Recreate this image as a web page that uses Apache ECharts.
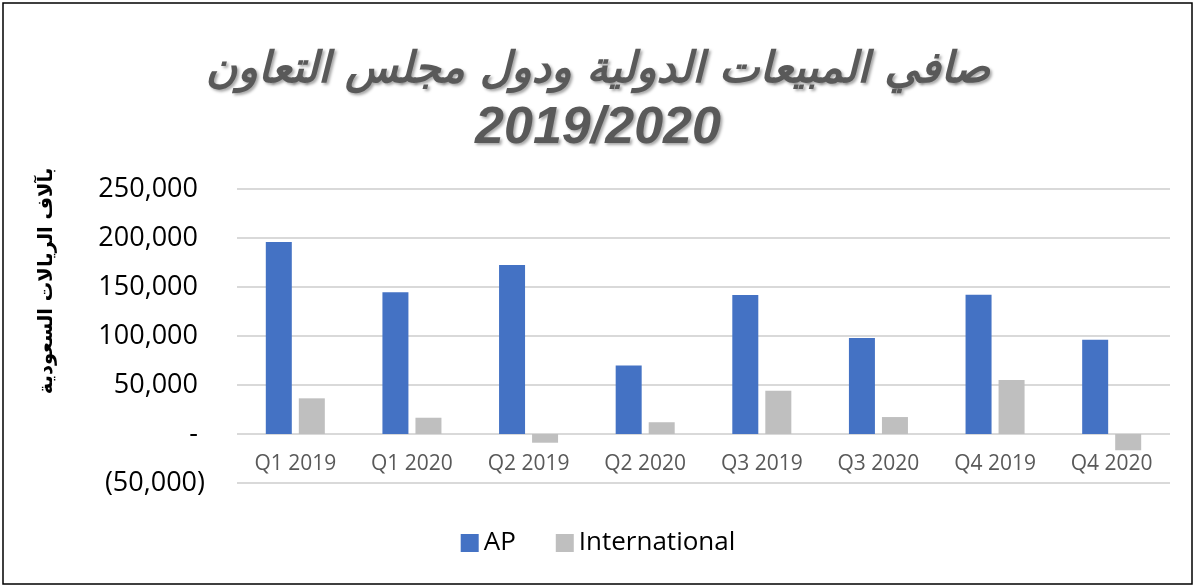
<!DOCTYPE html>
<html>
<head>
<meta charset="utf-8">
<script src="https://cdn.jsdelivr.net/npm/echarts@6/dist/echarts.min.js"></script>
<style>
  html, body { margin: 0; padding: 0; background: #fff; }
  #chart { width: 1196px; height: 588px; }
</style>
</head>
<body>
<div id="chart"></div>
<script>
// 季度分类
var categories = ['Q1 2019', 'Q1 2020', 'Q2 2019', 'Q2 2020', 'Q3 2019', 'Q3 2020', 'Q4 2019', 'Q4 2020'];
// 系列数据（千里亚尔）
var apValues = [196000, 144600, 172400, 70000, 141800, 98000, 142000, 96200];
var intlValues = [36400, 16600, -8900, 12000, 44200, 17300, 55100, -16600];
var seriesNames = ['AP', 'International'];
// y轴刻度
var yMin = -50000, yMax = 250000, yStep = 50000;

var chart = echarts.init(document.getElementById('chart'));

// 会计格式：0 显示为 "-"，负数加括号
function fmt(v) {
  if (v === 0) return '- ';
  var s = Math.abs(v).toString().replace(/\B(?=(\d{3})+(?!\d))/g, ',');
  return v < 0 ? '(' + s + ')' : s + ' ';
}

var titleShadow = {
  fontWeight: 'bold',
  fontStyle: 'italic',
  color: '#595959',
  textShadowColor: 'rgba(0,0,0,0.35)',
  textShadowBlur: 3,
  textShadowOffsetX: 2,
  textShadowOffsetY: 2
};

var option = {
  backgroundColor: '#fff',
  title: {
    text: '{ar|صافي المبيعات الدولية ودول مجلس التعاون}\n{num|2019/2020}',
    left: 'center',
    top: 36,
    textStyle: {
      rich: {
        ar: Object.assign({ fontFamily: 'DejaVu Sans', fontSize: 43, lineHeight: 60 }, titleShadow),
        num: Object.assign({ fontFamily: 'Liberation Sans', fontSize: 52, lineHeight: 56 }, titleShadow)
      }
    }
  },
  legend: {
    data: seriesNames,
    bottom: 27,
    left: 'center',
    itemWidth: 18,
    itemHeight: 18,
    itemGap: 40,
    icon: 'rect',
    textStyle: { fontFamily: 'Open Sans', fontSize: 26, color: '#000' }
  },
  grid: { left: 237, right: 26, top: 189, bottom: 105 },
  xAxis: {
    type: 'category',
    data: categories,
    position: 'bottom',
    offset: -49,
    axisLine: { show: false },
    axisTick: { show: false },
    axisLabel: { color: '#595959', fontFamily: 'Open Sans', fontSize: 21, margin: 20 }
  },
  yAxis: {
    type: 'value',
    min: yMin,
    max: yMax,
    interval: yStep,
    name: 'بآلاف الريالات السعودية',
    nameLocation: 'middle',
    nameRotate: 90,
    nameGap: 180,
    nameTextStyle: { fontFamily: 'DejaVu Sans', fontSize: 19.5, fontWeight: 'bold', color: '#000', padding: [0, 0, 0, 110] },
    axisLine: { show: false },
    axisTick: { show: false },
    axisLabel: { formatter: fmt, color: '#000', fontFamily: 'Open Sans', fontSize: 27, margin: 32 },
    splitLine: { lineStyle: { color: '#d9d9d9', width: 2 } }
  },
  series: [
    {
      name: seriesNames[0],
      type: 'bar',
      data: apValues,
      barWidth: 26,
      barGap: '27%',
      itemStyle: { color: '#4472C4' }
    },
    {
      name: seriesNames[1],
      type: 'bar',
      data: intlValues,
      barWidth: 26,
      itemStyle: { color: '#BFBFBF' }
    }
  ],
  graphic: [
    {
      type: 'rect',
      shape: { x: 3, y: 3, width: 1189, height: 581 },
      style: { fill: 'none', stroke: '#000', lineWidth: 1.5 },
      silent: true
    }
  ]
};

chart.setOption(option);
</script>
</body>
</html>
